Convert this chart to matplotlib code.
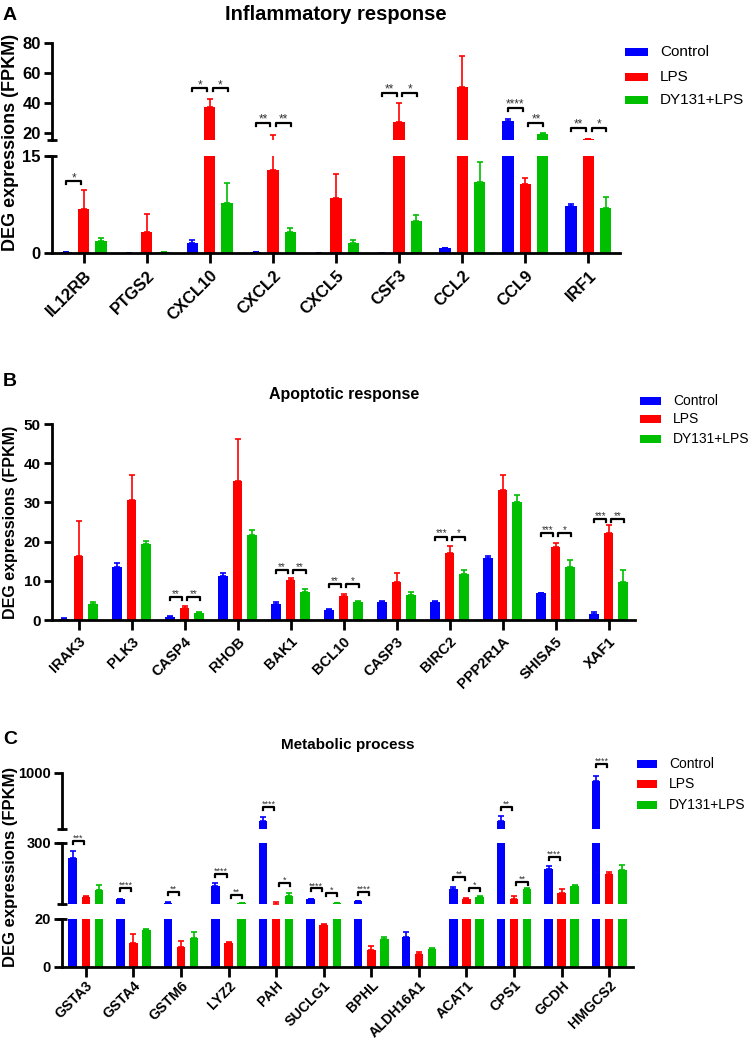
import numpy as np
import matplotlib
matplotlib.use('Agg')
import matplotlib.pyplot as plt
from matplotlib.patches import Rectangle
from matplotlib.transforms import blended_transform_factory

# data (FPKM, mean and upper error)

groups = ['Control', 'LPS', 'DY131+LPS']

genes_a = ['IL12RB', 'PTGS2', 'CXCL10', 'CXCL2', 'CXCL5', 'CSF3', 'CCL2', 'CCL9', 'IRF1']
ctrl_a = [0.1, 0.05, 1.6, 0.1, 0.05, 0.05, 0.7, 27.9, 7.3]
ctrl_a_err = [0, 0, 0.4, 0, 0, 0, 0.1, 1.0, 0.3]
lps_a = [6.8, 3.2, 36.9, 12.9, 8.5, 27.3, 50.3, 10.7, 15.5]
lps_a_err = [2.9, 2.8, 5.6, 5.5, 3.7, 12.7, 21.0, 0.9, 0.4]
dy_a = [1.85, 0.15, 7.8, 3.2, 1.5, 5.0, 11.0, 18.8, 7.0]
dy_a_err = [0.5, 0, 3.0, 0.7, 0.5, 0.8, 3.1, 0.9, 1.7]
# (gene index, pair, bracket height, stars)
sig_a = [(0, 'CL', 11.1, '*'), (2, 'CL', 49.6, '*'), (2, 'LD', 49.6, '*'),
         (3, 'CL', 26.6, '**'), (3, 'LD', 26.6, '**'), (5, 'CL', 46.7, '**'),
         (5, 'LD', 46.7, '*'), (7, 'CL', 36.6, '****'), (7, 'LD', 26.6, '**'),
         (8, 'CL', 23.2, '**'), (8, 'LD', 23.2, '*')]

genes_b = ['IRAK3', 'PLK3', 'CASP4', 'RHOB', 'BAK1', 'BCL10', 'CASP3', 'BIRC2',
           'PPP2R1A', 'SHISA5', 'XAF1']
ctrl_b = [0.3, 13.6, 0.7, 11.3, 4.0, 2.6, 4.6, 4.6, 15.7, 6.8, 1.5]
ctrl_b_err = [0.1, 0.9, 0.2, 0.8, 0.5, 0.3, 0.2, 0.2, 0.7, 0.2, 0.5]
lps_b = [16.2, 30.6, 3.1, 35.5, 10.1, 6.1, 9.8, 17.1, 33.2, 18.5, 22.2]
lps_b_err = [9.1, 6.3, 0.5, 10.6, 0.5, 0.6, 2.3, 1.8, 3.9, 1.1, 2.0]
dy_b = [4.1, 19.5, 1.7, 21.8, 7.2, 4.7, 6.3, 11.7, 30.2, 13.6, 9.8]
dy_b_err = [0.6, 0.6, 0.4, 1.2, 0.6, 0.2, 0.9, 1.1, 1.8, 1.7, 2.9]
sig_b = [(2, 'CL', 5.8, '**'), (2, 'LD', 5.8, '**'), (4, 'CL', 12.8, '**'),
         (4, 'LD', 12.8, '**'), (5, 'CL', 9.1, '**'), (5, 'LD', 9.1, '*'),
         (7, 'CL', 21.3, '***'), (7, 'LD', 21.3, '*'), (9, 'CL', 22.2, '***'),
         (9, 'LD', 22.2, '*'), (10, 'CL', 25.8, '***'), (10, 'LD', 25.8, '**')]

genes_c = ['GSTA3', 'GSTA4', 'GSTM6', 'LYZ2', 'PAH', 'SUCLG1', 'BPHL', 'ALDH16A1',
           'ACAT1', 'CPS1', 'GCDH', 'HMGCS2']
ctrl_c = [233, 42, 26, 104, 404, 42, 32, 12.6, 89, 397, 181, 895]
ctrl_c_err = [32, 3, 5, 11, 43, 3, 3, 2.1, 11, 70, 13, 62]
lps_c = [51, 9.8, 8.2, 9.7, 21.5, 17.5, 6.9, 5.2, 42, 44, 71, 160]
lps_c_err = [6, 3.7, 2.5, 0.7, 6, 0.6, 1.7, 0.7, 4, 11, 17, 6]
dy_c = [85, 15.3, 11.9, 23, 58, 23, 11.4, 7.2, 54, 88, 104, 177]
dy_c_err = [23, 0.3, 2.7, 1, 11, 1, 1.2, 0.8, 3, 4, 4, 24]
sig_c = [(0, 'CL', 310, '***'), (1, 'CL', 95, '****'), (2, 'CL', 77, '**'),
         (3, 'CL', 160, '****'), (3, 'LD', 63, '**'), (4, 'CL', 577, '****'),
         (4, 'LD', 117, '*'), (5, 'CL', 92, '****'), (5, 'LD', 71, '*'),
         (6, 'CL', 77, '****'), (8, 'CL', 143, '**'), (8, 'LD', 95, '*'),
         (9, 'CL', 580, '**'), (9, 'LD', 121, '**'), (10, 'CL', 238, '****'),
         (11, 'CL', 1113, '****')]

plt.rcParams['font.family'] = ['Liberation Sans', 'DejaVu Sans']
plt.rcParams['font.weight'] = 'bold'

W, H = 749, 1042
fig = plt.figure(figsize=(W / 100, H / 100), dpi=100)
colors = ['#0000FF', '#FF0000', '#00BF00']
OFF = 0.275
BW = 0.18


def px_axes(x0, y0, x1, y1):
    return fig.add_axes([x0 / W, 1 - y1 / H, (x1 - x0) / W, (y1 - y0) / H])


def draw_bars(ax, means, errs, lim):
    n = len(means[0])
    x = np.arange(n)
    lo, hi = lim
    for k in range(3):
        xs = x + (k - 1) * OFF
        m = np.array(means[k], dtype=float)
        e = np.array(errs[k], dtype=float)
        ax.bar(xs, m, width=BW, color=colors[k], linewidth=0)
        # only error bars that reach into this segment
        keep = (m + e >= lo) & (m <= hi)
        if keep.any():
            ax.errorbar(xs[keep], m[keep], yerr=[np.zeros(keep.sum()), e[keep]],
                        fmt='none', ecolor=colors[k], elinewidth=1.2,
                        capsize=2.3, capthick=1.2)
    ax.set_xlim(-0.5, n - 0.5)
    ax.set_ylim(lo, hi)


def style(ax, bottom, fs):
    for s in ['top', 'right']:
        ax.spines[s].set_visible(False)
    ax.spines['left'].set_linewidth(2)
    if bottom:
        ax.spines['bottom'].set_linewidth(2)
        ax.tick_params(axis='x', width=2, length=7)
    else:
        ax.spines['bottom'].set_visible(False)
        ax.tick_params(axis='x', bottom=False, labelbottom=False)
    ax.tick_params(axis='y', width=2, length=6, labelsize=fs, pad=2)


def cap(ax, yval, half=5):
    w = half / (ax.get_position().width * W)
    tr = blended_transform_factory(ax.transAxes, ax.transData)
    ax.plot([-w, w], [yval, yval], color='black', lw=2, transform=tr,
            clip_on=False, solid_capstyle='butt')


def brackets(axes, sigs, fs):
    for gi, pair, yv, lab in sigs:
        ax = axes[-1]
        for a in axes:
            lo, hi = a.get_ylim()
            if lo <= yv <= hi * 1.05:
                ax = a
                break
        lo, hi = ax.get_ylim()
        leg = 3 * (hi - lo) / (ax.get_position().height * H)
        if pair == 'CL':
            x0, x1 = gi - OFF, gi - 0.04
        else:
            x0, x1 = gi + 0.05, gi + OFF + 0.01
        ax.plot([x0, x0, x1, x1], [yv - leg, yv, yv, yv - leg], color='black',
                lw=1.6, clip_on=False)
        ax.text((x0 + x1) / 2, yv, lab, ha='center', va='baseline', fontsize=fs,
                fontweight='normal', color='#333333', clip_on=False)


def legend(x0, x1, ys, xt, fs, h=8):
    for c, lab, y in zip(colors, groups, ys):
        fig.add_artist(Rectangle((x0 / W, 1 - (y + h / 2) / H), (x1 - x0) / W, h / H,
                                 transform=fig.transFigure, color=c, lw=0))
        fig.text(xt / W, 1 - y / H, lab, fontsize=fs, fontweight='normal',
                 va='center', ha='left')


def ftext(x, y, s, **kw):
    fig.text(x / W, 1 - y / H, s, **kw)


# ---------------- panel A ----------------
a_up = px_axes(52, 43, 620, 140)
a_lo = px_axes(52, 156, 620, 253)
for ax, lim, ticks, bottom in [(a_up, (15, 80), [20, 40, 60, 80], False),
                               (a_lo, (0, 15), [0, 15], True)]:
    draw_bars(ax, [ctrl_a, lps_a, dy_a], [ctrl_a_err, lps_a_err, dy_a_err], lim)
    ax.set_yticks(ticks)
    style(ax, bottom, 12)
cap(a_up, 15)
cap(a_lo, 15)
a_lo.set_xticks(range(len(genes_a)))
a_lo.set_xticklabels(genes_a, rotation=45, ha='right', rotation_mode='anchor', fontsize=12)
brackets([a_lo, a_up], sig_a, 8.5)
legend(625, 648, [52, 77, 100], 660, 11)
ftext(336, 14, 'Inflammatory response', fontsize=14.5, ha='center', va='center')
ftext(3, 15, 'A', fontsize=14, ha='left', va='center')
ftext(11, 142, 'DEG expressions (FPKM)', fontsize=13, rotation=90, ha='center', va='center')

# ---------------- panel B ----------------
b = px_axes(52, 424, 635, 620)
draw_bars(b, [ctrl_b, lps_b, dy_b], [ctrl_b_err, lps_b_err, dy_b_err], (0, 50))
b.set_yticks(np.arange(0, 51, 10))
style(b, True, 11)
b.set_xticks(range(len(genes_b)))
b.set_xticklabels(genes_b, rotation=45, ha='right', rotation_mode='anchor', fontsize=10.5)
brackets([b], sig_b, 7)
legend(640, 661, [401, 419, 439], 673, 10)
ftext(344, 394, 'Apoptotic response', fontsize=11.5, ha='center', va='center')
ftext(3, 381, 'B', fontsize=14, ha='left', va='center')
ftext(11, 522, 'DEG expressions (FPKM)', fontsize=11.5, rotation=90, ha='center', va='center')

# ---------------- panel C ----------------
c_top = px_axes(62, 773, 633, 829)
c_mid = px_axes(62, 843, 633, 904)
c_lo = px_axes(62, 919, 633, 966.5)
for ax, lim, ticks, bottom in [(c_top, (300, 1000), [1000], False),
                               (c_mid, (20, 300), [300], False),
                               (c_lo, (0, 20), [0, 20], True)]:
    draw_bars(ax, [ctrl_c, lps_c, dy_c], [ctrl_c_err, lps_c_err, dy_c_err], lim)
    ax.set_yticks(ticks)
    style(ax, bottom, 10.5)
cap(c_top, 300)
cap(c_mid, 300)
cap(c_mid, 20)
cap(c_lo, 20)
c_lo.set_xticks(range(len(genes_c)))
c_lo.set_xticklabels(genes_c, rotation=45, ha='right', rotation_mode='anchor', fontsize=10.2)
c_lo.tick_params(axis='x', pad=1.5)
brackets([c_lo, c_mid, c_top], sig_c, 6.5)
legend(637, 657, [764, 784, 805], 669, 10)
ftext(348, 745, 'Metabolic process', fontsize=11, ha='center', va='center')
ftext(3, 739, 'C', fontsize=14, ha='left', va='center')
ftext(11, 867, 'DEG expressions (FPKM)', fontsize=12, rotation=90, ha='center', va='center')

fig.savefig('out.png', dpi=100)
